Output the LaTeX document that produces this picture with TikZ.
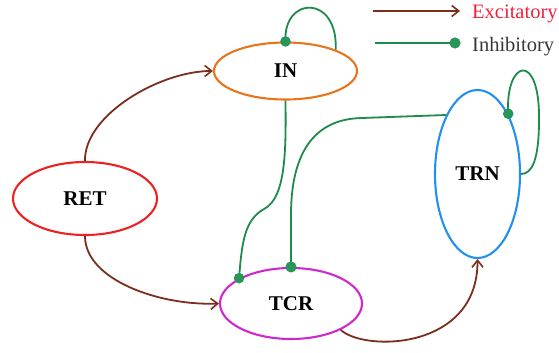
\documentclass[tikz,border=0pt]{standalone}
\usepackage{fontspec}
\setmainfont{Liberation Serif}
\usetikzlibrary{shapes.geometric,arrows.meta}

\definecolor{exc}{HTML}{7A2E1C}
\definecolor{inh}{HTML}{1F8A4C}
\definecolor{inhdot}{HTML}{2A9558}
\definecolor{inc}{HTML}{E8741E}
\definecolor{retc}{HTML}{EE2222}
\definecolor{tcrc}{HTML}{CC2ACC}
\definecolor{trnc}{HTML}{2290F0}
\definecolor{exctext}{HTML}{F0203A}
\definecolor{inhtext}{HTML}{383838}

\tikzset{
  cell/.style={ellipse, draw, line width=2.1pt, inner sep=0pt,
    font=\fontsize{21}{21}\selectfont\bfseries},
  excite/.style={exc, line width=1.8pt, -{Straight Barb[length=7pt,width=11pt,line width=1.6pt]}},
  inhibit/.style={inh, line width=1.8pt},
  syn/.style={fill=inhdot},
  legendtext/.style={anchor=west, inner sep=0pt, font=\fontsize{20.5}{20.5}\selectfont}
}

\begin{document}
\begin{tikzpicture}[x=1pt, y=-1pt]
\useasboundingbox (0,0) rectangle (559,353);

% cell populations
\node[cell, draw=inc,  minimum width=143pt, minimum height=57pt]  (in)  at (285.5,71)  {IN};
\node[cell, draw=retc, minimum width=144pt, minimum height=73pt]  (ret) at (85,198.5)  {RET};
\node[cell, draw=tcrc, minimum width=142pt, minimum height=71pt]  (tcr) at (291,303.5) {TCR};
\node[cell, draw=trnc, minimum width=85pt,  minimum height=168pt] (trn) at (477.5,174) {TRN};

% excitatory projections
\draw[excite] (ret.north) .. controls (84,115) and (160,71) .. (in.west);
\draw[excite] (ret.south) .. controls (85,280) and (160,306) .. (tcr.west);
\draw[excite] (tcr.-28) .. controls (365,352) and (478,350) .. (trn.south);

% inhibitory projections
\coordinate (kink) at (264,209);
\draw[inhibit] (in.south) .. controls (286,150) and (286,198) .. (kink)
  .. controls (245,220) and (242,240) .. (tcr.154);
\draw[inhibit] (trn.118) -- (362,118) .. controls (306,119) and (291,165) .. (291,215) -- (tcr.north);
\draw[inhibit] (in.north) .. controls (283,-4) and (338,-6) .. (in.23);
\draw[inhibit] (trn.63) .. controls (505,60) and (540,50) .. (539,120)
  .. controls (539,160) and (532,174) .. (trn.east);

% synapse markers
\fill[syn] (in.north) circle (5.3pt);
\fill[syn] (tcr.154) circle (5.3pt);
\fill[syn] (tcr.north) circle (5.6pt);
\fill[syn] (trn.63) circle (5.3pt);

% legend
\coordinate (ea) at (373,11);
\coordinate (eb) at (460,11);
\coordinate (ia) at (375,43);
\coordinate (ib) at (455,43);
\draw[excite] (ea) -- (eb);
\draw[inhibit] (ia) -- (ib);
\fill[syn] (ib) circle (5.6pt);
\node[legendtext, text=exctext] (lexc) at (472,14) {Excitatory};
\node[legendtext, text=inhtext] (linh) at (472,47) {Inhibitory};
\end{tikzpicture}
\end{document}
